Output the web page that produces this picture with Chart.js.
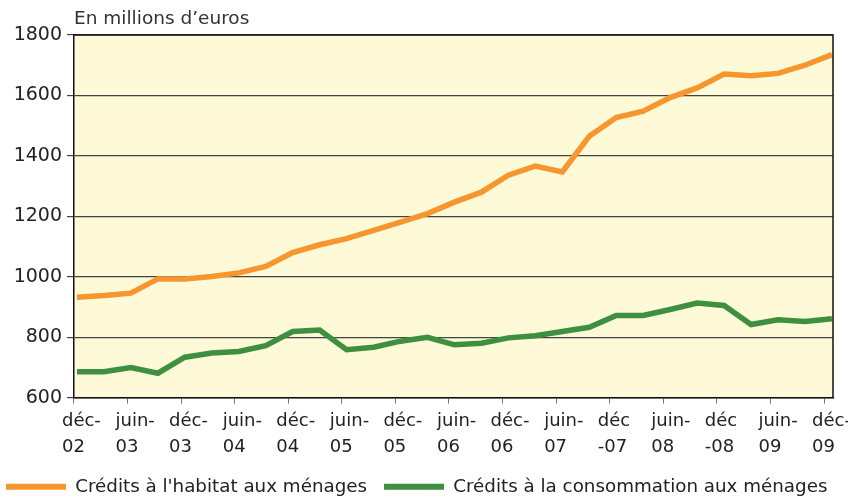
<!DOCTYPE html>
<html>
<head>
<meta charset="utf-8">
<script src="https://cdn.jsdelivr.net/npm/chart.js@4/dist/chart.umd.min.js"></script>
<style>
  html, body { margin: 0; padding: 0; background: #fff; }
  #wrap { width: 848px; height: 498px; }
</style>
</head>
<body>
<div id="wrap"><canvas id="myChart" width="848" height="498"></canvas></div>
<script>
// quarterly points, déc-02 .. déc-09
var quarters = ["déc-02","mars-03","juin-03","sept-03","déc-03","mars-04","juin-04","sept-04","déc-04","mars-05","juin-05","sept-05","déc-05","mars-06","juin-06","sept-06","déc-06","mars-07","juin-07","sept-07","déc-07","mars-08","juin-08","sept-08","déc-08","mars-09","juin-09","sept-09","déc-09"];
var habitat = [932, 938, 946, 993, 993, 1001, 1013, 1034, 1080, 1106, 1126, 1154, 1181, 1209, 1247, 1280, 1336, 1366, 1347, 1465, 1527, 1548, 1593, 1625, 1671, 1665, 1673, 1700, 1735];
var consommation = [686, 686, 700, 681, 734, 748, 753, 772, 819, 824, 759, 767, 787, 800, 775, 780, 798, 805, 819, 833, 872, 872, 892, 913, 905, 842, 858, 852, 861];
var tickLabels = [["déc-","02"],["juin-","03"],["déc-","03"],["juin-","04"],["déc-","04"],["juin-","05"],["déc-","05"],["juin-","06"],["déc-","06"],["juin-","07"],["déc","-07"],["juin-","08"],["déc","-08"],["juin-","09"],["déc-","09"]];
var yTicks = [600, 800, 1000, 1200, 1400, 1600, 1800];

var FONT = "'DejaVu Sans', sans-serif";

var frame = {
  id: "frame",
  beforeDraw: function (chart) {
    var a = chart.chartArea, c = chart.ctx;
    c.save();
    c.fillStyle = "#fef9d6";
    c.fillRect(a.left, a.top, a.right - a.left, a.bottom - a.top);
    c.restore();
  },
  afterDatasetsDraw: function (chart) {
    var a = chart.chartArea, c = chart.ctx;
    c.save();
    c.strokeStyle = "#111";
    c.lineWidth = 1.5;
    c.beginPath();
    c.moveTo(a.left, a.top);
    c.lineTo(a.right, a.top);
    c.lineTo(a.right, a.bottom);
    c.stroke();
    c.restore();
  }
};

var ctx = document.getElementById("myChart").getContext("2d");
var myChart = new Chart(ctx, {
  type: "line",
  data: {
    datasets: [
      {
        label: "Crédits à l'habitat aux ménages",
        data: habitat.map(function (v, i) { return { x: i, y: v }; }),
        borderColor: "#f7962f",
        backgroundColor: "#f7962f",
        borderWidth: 5.5,
        pointRadius: 0,
        tension: 0
      },
      {
        label: "Crédits à la consommation aux ménages",
        data: consommation.map(function (v, i) { return { x: i, y: v }; }),
        borderColor: "#3f8f40",
        backgroundColor: "#3f8f40",
        borderWidth: 5.5,
        pointRadius: 0,
        tension: 0
      }
    ]
  },
  options: {
    responsive: false,
    animation: false,
    layout: { padding: { left: -11, right: 0, top: 0, bottom: -8 } },
    scales: {
      x: {
        type: "linear",
        min: -0.11,
        max: 28.04,
        afterBuildTicks: function (scale) {
          scale.ticks = tickLabels.map(function (_, k) { return { value: -0.111 + 1.987 * k }; });
        },
        afterFit: function (scale) {
          scale.height = 63;
          scale.paddingLeft = 0;
          scale.paddingRight = 15;
        },
        border: { display: true, color: "#111", width: 1.5 },
        grid: { drawOnChartArea: false, drawTicks: true, tickLength: 6, color: "#777" },
        ticks: {
          autoSkip: false,
          maxRotation: 0,
          align: "start",
          labelOffset: -12,
          padding: 5,
          color: "#222",
          font: { family: FONT, size: 18, lineHeight: 1.42 },
          callback: function (v, k) { return tickLabels[k]; }
        }
      },
      y: {
        min: 600,
        max: 1800,
        afterBuildTicks: function (scale) {
          scale.ticks = yTicks.map(function (v) { return { value: v }; });
        },
        afterFit: function (scale) { scale.width = 85; },
        border: { display: true, color: "#111", width: 1.5 },
        grid: { color: "#444", lineWidth: 1.2, tickLength: 7 },
        ticks: {
          padding: 5,
          color: "#222",
          font: { family: FONT, size: 19 },
          callback: function (v) { return String(v); }
        }
      }
    },
    plugins: {
      title: {
        display: true,
        fullSize: false,
        text: "En millions d\u2019euros",
        align: "start",
        color: "#333",
        font: { family: FONT, size: 18.5, weight: "normal" },
        padding: { top: 8, bottom: 4.8 }
      },
      legend: {
        display: true,
        position: "bottom",
        align: "start",
        labels: {
          boxWidth: 60,
          boxHeight: 6,
          padding: 17,
          color: "#222",
          font: { family: FONT, size: 18.3 },
          generateLabels: function (chart) {
            var items = Chart.defaults.plugins.legend.labels.generateLabels(chart);
            items.forEach(function (it) { it.lineWidth = 0; });
            return items;
          }
        }
      },
      tooltip: { enabled: false }
    }
  },
  plugins: [frame]
});
</script>
</body>
</html>
